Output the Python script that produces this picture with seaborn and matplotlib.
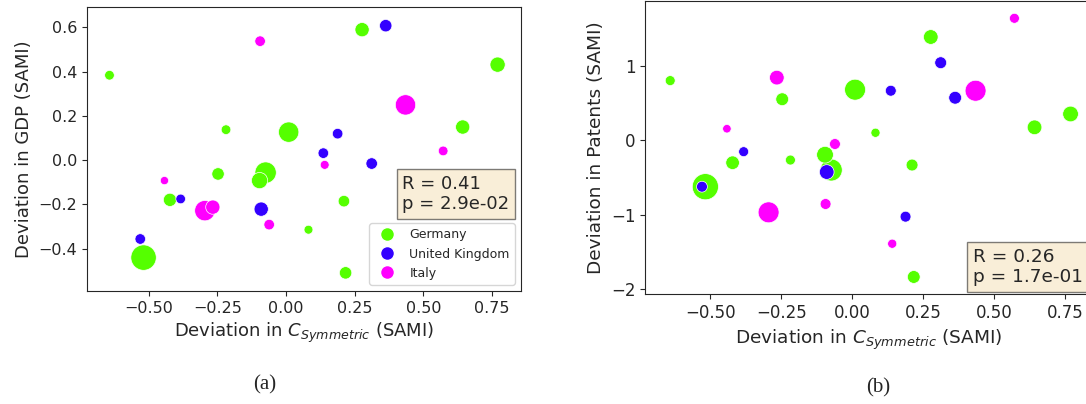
import numpy as np
import pandas as pd
import matplotlib
matplotlib.use("Agg")
import matplotlib.pyplot as plt
from matplotlib.lines import Line2D
import seaborn as sns

# ---- data -----------------------------------------------------------------
countries = ["Germany", "United Kingdom", "Italy"]
country_colors = ["#55ff00", "#3300ff", "#ff00ff"]

de_csym = [-0.642, -0.218, 0.277, 0.770, 0.010, 0.643, -0.074, -0.096, 0.211, 0.082, 0.217, -0.247, -0.422, -0.518]
de_gdp = [0.384, 0.138, 0.590, 0.432, 0.127, 0.150, -0.056, -0.092, -0.185, -0.314, -0.509, -0.062, -0.179, -0.440]
de_pat = [0.80, -0.266, 1.385, 0.352, 0.678, 0.173, -0.40, -0.195, -0.333, 0.10, -1.835, 0.55, -0.302, -0.624]
de_pop = [0.52, 0.52, 1.13, 1.29, 2.30, 1.13, 2.54, 1.47, 0.74, 0.44, 0.86, 0.86, 0.97, 3.60]

uk_csym = [0.363, 0.188, 0.136, 0.312, -0.090, -0.383, -0.530]
uk_gdp = [0.608, 0.120, 0.032, -0.015, -0.221, -0.175, -0.356]
uk_pat = [0.570, -1.026, 0.664, 1.04, -0.427, -0.154, -0.624]
uk_pop = [0.86, 0.62, 0.62, 0.74, 1.13, 0.52, 0.62]

it_csym = [-0.094, 0.435, 0.572, 0.141, -0.061, -0.442, -0.295, -0.266]
it_gdp = [0.538, 0.250, 0.042, -0.021, -0.291, -0.092, -0.228, -0.212]
it_pat = [-0.856, 0.664, 1.636, -1.389, -0.051, 0.154, -0.968, 0.84]
it_pop = [0.62, 2.30, 0.52, 0.44, 0.62, 0.38, 2.30, 1.13]

stats_gdp = ["R = 0.41", "p = 2.9e-02"]
stats_pat = ["R = 0.26", "p = 1.7e-01"]

df = pd.DataFrame({
    "country": ["Germany"] * len(de_csym) + ["United Kingdom"] * len(uk_csym) + ["Italy"] * len(it_csym),
    "csym": de_csym + uk_csym + it_csym,
    "gdp": de_gdp + uk_gdp + it_gdp,
    "patents": de_pat + uk_pat + it_pat,
    "pop": de_pop + uk_pop + it_pop,
})

# ---- style ----------------------------------------------------------------
sns.set_style("ticks")
plt.rcParams["font.family"] = ["DejaVu Sans"]
plt.rcParams.update({
    "xtick.major.size": 3.5, "ytick.major.size": 3.5,
    "xtick.major.width": 0.8, "ytick.major.width": 0.8,
    "axes.linewidth": 0.8,
})
palette = dict(zip(countries, country_colors))

fig = plt.figure(figsize=(10.86, 4.04), dpi=100)
ax_a = fig.add_axes([0.0798, 0.2797, 0.3999, 0.7022])
ax_b = fig.add_axes([0.5939, 0.2715, 0.4125, 0.7260])


def panel(ax, ycol, ylabel, stats, maxsize, tick_fs, label_fs, box_xy, box_va):
    sns.scatterplot(data=df, x="csym", y=ycol, hue="country", size="pop",
                    palette=palette, hue_order=countries,
                    sizes=(0, maxsize), size_norm=(0, 3.6),
                    linewidth=0.5, edgecolor="w",
                    ax=ax, legend=False)
    ax.set_xlabel(r"Deviation in $C_{Symmetric}$ (SAMI)", fontsize=label_fs)
    ax.set_ylabel(ylabel, fontsize=label_fs)
    ax.tick_params(labelsize=tick_fs)
    ax.set_xticks([-0.5, -0.25, 0.0, 0.25, 0.5, 0.75])
    ax.text(box_xy[0], box_xy[1], "\n".join(stats), transform=ax.transAxes,
            fontsize=label_fs, va=box_va, ha="left",
            bbox=dict(boxstyle="square", facecolor="wheat",
                      edgecolor="black", alpha=0.5))


panel(ax_a, "gdp", "Deviation in GDP (SAMI)", stats_gdp, 335, 11.5, 13,
      (0.726, 0.41), "top")
ax_a.set_xlim(-0.725, 0.855)
ax_a.set_ylim(-0.591, 0.691)
handles = [Line2D([0], [0], marker="o", ls="", markersize=10,
                  markerfacecolor=c, markeredgecolor="w", label=n)
           for n, c in zip(countries, country_colors)]
ax_a.legend(handles=handles, loc="lower right", fontsize=9, frameon=True)

panel(ax_b, "patents", "Deviation in Patents (SAMI)", stats_pat, 355, 12, 13.3,
      (0.732, 0.027), "bottom")
ax_b.set_xlim(-0.731, 0.849)
ax_b.set_ylim(-2.068, 1.868)
ax_b.set_yticks([-2, -1, 0, 1])

# sub-figure captions
fig.text(0.2440, 0.048, "(a)", family="Liberation Serif", fontsize=15,
         ha="center", va="center")
fig.text(0.8085, 0.040, "(b)", family="Liberation Serif", fontsize=15,
         ha="center", va="center")

fig.savefig("out.png", dpi=100)
